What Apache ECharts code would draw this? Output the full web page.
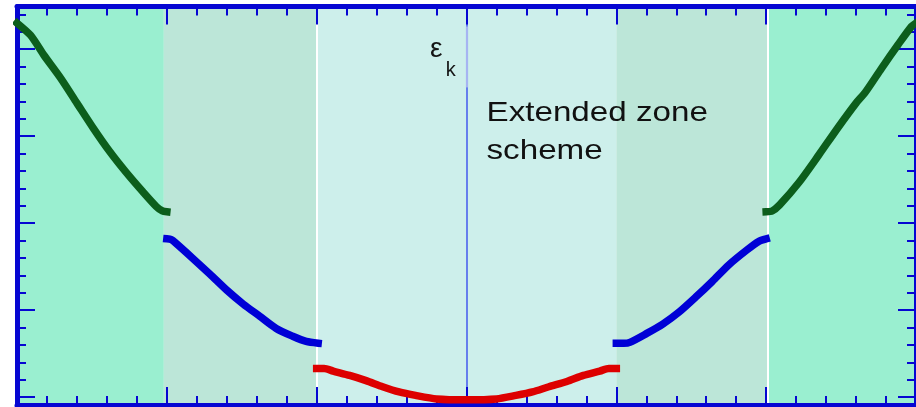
<!DOCTYPE html>
<html>
<head>
<meta charset="utf-8">
<script src="https://cdn.jsdelivr.net/npm/echarts@6/dist/echarts.min.js"></script>
<style>
  html, body { margin: 0; padding: 0; background: #ffffff; }
  #chart { width: 916px; height: 407px; }
</style>
</head>
<body>
<div id="chart"></div>
<script>
// Nearly-free-electron bands in the extended zone scheme.
// k in units of pi/a, energy in arbitrary units.

// Brillouin zone boundaries (drawn backgrounds) and their fills
const zoneEdges = [-3, -2.02, -1, 1, 2.01, 3];
const zoneColors = ['#9aefd0', '#bce6d8', '#cdefeb', '#bce6d8', '#9aefd0'];
const whiteBoundaries = [-1, 2.01];

// Axis ticks
const kRange = [-3, 3];
const eRange = [-0.09, 4.49];
const energyMajorTicks = [0, 1, 2, 3, 4];
const energyMinorTicks = [0.2, 0.4, 0.6, 0.8, 1.2, 1.4, 1.6, 1.8, 2.2, 2.4, 2.6, 2.8,
                          3.2, 3.4, 3.6, 3.8, 4.2, 4.4];

// Band segments [k, energy]
const band3Left = [[-3.00, 4.30], [-2.91, 4.16], [-2.82, 3.93], [-2.71, 3.67], [-2.60, 3.38],
                   [-2.49, 3.09], [-2.38, 2.82], [-2.27, 2.58], [-2.16, 2.36], [-2.07, 2.19],
                   [-2.03, 2.14], [-2.00, 2.13]];
const band2Left = [[-2.00, 1.82], [-1.97, 1.81], [-1.94, 1.77], [-1.83, 1.60], [-1.71, 1.41],
                   [-1.60, 1.23], [-1.49, 1.07], [-1.38, 0.93], [-1.27, 0.79], [-1.16, 0.70],
                   [-1.07, 0.64], [-0.99, 0.62]];
const band1 = [[-1.00, 0.33], [-0.95, 0.33], [-0.89, 0.30], [-0.78, 0.25], [-0.67, 0.19],
               [-0.56, 0.12], [-0.45, 0.06], [-0.34, 0.02], [-0.20, -0.02], [0.00, -0.03],
               [0.20, -0.02], [0.33, 0.02], [0.44, 0.06], [0.55, 0.12], [0.67, 0.18],
               [0.78, 0.25], [0.89, 0.30], [0.95, 0.33], [1.00, 0.33]];
const band2Right = [[1.00, 0.62], [1.05, 0.62], [1.09, 0.63], [1.20, 0.73], [1.31, 0.84],
                    [1.42, 0.98], [1.53, 1.15], [1.64, 1.33], [1.75, 1.52], [1.87, 1.69],
                    [1.95, 1.79], [2.00, 1.82]];
const band3Right = [[2.00, 2.13], [2.04, 2.14], [2.09, 2.21], [2.22, 2.47], [2.35, 2.78],
                    [2.48, 3.10], [2.60, 3.38], [2.66, 3.50], [2.77, 3.78], [2.88, 4.05],
                    [2.97, 4.26], [3.00, 4.30]];

// Energy axis line at k = 0, paler where the label box sits on it
const energyAxisPale = [3.56, 4.26];

const BORDER = '#0606d2';
const GREEN = '#0c5e1c';
const BLUE = '#0000d6';
const RED = '#dd0000';

function xAxisCfg(position) {
  return {
    type: 'value', position: position, min: kRange[0], max: kRange[1], interval: 1,
    z: 3,
    axisLine: { show: true, onZero: false, lineStyle: { color: BORDER, width: 5 } },
    axisTick: { show: true, inside: true, length: 18, lineStyle: { color: BORDER, width: 2 } },
    minorTick: { show: true, splitNumber: 5, length: 9, lineStyle: { color: BORDER, width: 2 } },
    axisLabel: { show: false },
    splitLine: { show: false },
    minorSplitLine: { show: false }
  };
}

function yAxisCfg(position, ticks, len, showLine) {
  return {
    type: 'value', position: position, min: eRange[0], max: eRange[1],
    z: 3,
    axisLine: { show: showLine, onZero: false, lineStyle: { color: BORDER, width: 5 } },
    axisTick: { show: true, inside: true, length: len, customValues: ticks,
                lineStyle: { color: BORDER, width: 2 } },
    axisLabel: { show: false },
    splitLine: { show: false }
  };
}

function bandSeries(data, color) {
  return {
    type: 'line', data: data, xAxisIndex: 0, yAxisIndex: 0,
    showSymbol: false, symbol: 'none', smooth: 0.25,
    clip: false, z: 4,
    lineStyle: { color: color, width: 7.5, cap: 'square', join: 'round' },
    silent: true
  };
}

const zoneAreas = [];
for (let i = 0; i < zoneColors.length; i++) {
  zoneAreas.push([
    { xAxis: zoneEdges[i], itemStyle: { color: zoneColors[i] } },
    { xAxis: zoneEdges[i + 1] }
  ]);
}

const guideLines = whiteBoundaries.map(function (k) {
  return { xAxis: k, lineStyle: { color: '#ffffff', width: 2, type: 'solid' } };
});
guideLines.push({ xAxis: 0, lineStyle: { color: '#4c62ee', width: 1.6, type: 'solid' } });
guideLines.push([
  { coord: [0, energyAxisPale[0]], lineStyle: { color: '#a6b4f2', width: 2.2, type: 'solid' } },
  { coord: [0, energyAxisPale[1]] }
]);

const chart = echarts.init(document.getElementById('chart'), null, { renderer: 'canvas' });

chart.setOption({
  animation: false,
  backgroundColor: '#ffffff',
  grid: { left: 17, top: 6.5, width: 900, height: 398.5, containLabel: false },
  xAxis: [xAxisCfg('bottom'), xAxisCfg('top')],
  yAxis: [
    yAxisCfg('left', energyMajorTicks, 18, true),
    yAxisCfg('left', energyMinorTicks, 9, false),
    yAxisCfg('right', energyMajorTicks, 18, true),
    yAxisCfg('right', energyMinorTicks, 9, false)
  ],
  series: [
    {
      type: 'line', data: [], xAxisIndex: 0, yAxisIndex: 0, silent: true, z: 1,
      markArea: { silent: true, z: 1, data: zoneAreas },
      markLine: { silent: true, z: 2, symbol: 'none', label: { show: false },
                  animation: false, data: guideLines }
    },
    bandSeries(band3Left, GREEN),
    bandSeries(band2Left, BLUE),
    bandSeries(band1, RED),
    bandSeries(band2Right, BLUE),
    bandSeries(band3Right, GREEN)
  ],
  graphic: [
    {
      type: 'text', x: 430, y: 49.5, z: 10, silent: true,
      style: { text: 'ε', font: '28px "Liberation Sans", Arial, sans-serif',
               fill: '#151515', verticalAlign: 'middle', align: 'left' }
    },
    {
      type: 'text', x: 445.8, y: 70.5, z: 10, silent: true,
      style: { text: 'k', font: '20px "Liberation Sans", Arial, sans-serif',
               fill: '#151515', verticalAlign: 'middle', align: 'left' }
    },
    {
      type: 'text', x: 486.5, y: 94, z: 10, silent: true, scaleX: 1.185,
      style: { text: 'Extended zone\nscheme', font: '28px "Liberation Sans", Arial, sans-serif',
               lineHeight: 38, fill: '#111111', verticalAlign: 'top', align: 'left' }
    }
  ]
});
</script>
</body>
</html>
